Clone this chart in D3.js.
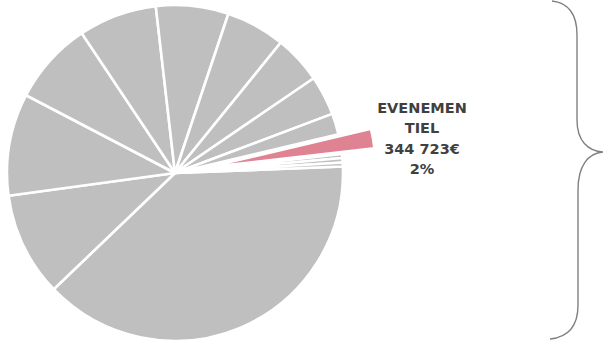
<!DOCTYPE html>
<html>
<head>
<meta charset="utf-8">
<script src="https://cdn.jsdelivr.net/npm/d3@7/dist/d3.min.js"></script>
<style>
  html, body { margin: 0; padding: 0; background: #ffffff; }
  svg { display: block; }
</style>
</head>
<body>
<div id="chart"></div>
<script>
// ---- Data ----
const categories = [
  "Catégorie 1", "Catégorie 2", "Catégorie 3", "Catégorie 4", "Catégorie 5",
  "Catégorie 6", "Catégorie 7", "Catégorie 8", "Catégorie 9", "Catégorie 10",
  "EVENEMENTIEL", "Catégorie 12", "Catégorie 13", "Catégorie 14"
];
const values = [
  7011000, 1825000, 1790000, 1455000, 1374000,
  1272000, 1039000, 842000, 695000, 370000,
  344723, 71000, 76000, 71000
];
const highlighted = "EVENEMENTIEL";
const highlightLabelLines = ["EVENEMEN", "TIEL"];

// ---- Layout ----
const W = 603, H = 342;
const cx = 175, cy = 173, R = 168;
const explode = 33;
const startDeg = 87.8;

const svg = d3.select("#chart").append("svg")
  .attr("width", W).attr("height", H);

const data = categories.map((c, i) => ({ category: c, value: values[i] }));
const total = d3.sum(values);

const pie = d3.pie()
  .sort(null)
  .value(d => d.value)
  .startAngle(startDeg * Math.PI / 180)
  .endAngle(startDeg * Math.PI / 180 + 2 * Math.PI);

const arc = d3.arc().innerRadius(0).outerRadius(R);

const color = d3.scaleOrdinal()
  .domain(categories)
  .range(categories.map(c => c === highlighted ? "#df8291" : "#bfbfbf"));

const g = svg.append("g").attr("transform", `translate(${cx},${cy})`);

const arcs = pie(data);

g.selectAll("path.slice")
  .data(arcs)
  .join("path")
  .attr("class", "slice")
  .attr("d", arc)
  .attr("fill", d => color(d.data.category))
  .attr("stroke", "#ffffff")
  .attr("stroke-width", 2.6)
  .attr("stroke-linejoin", "round")
  .attr("transform", d => {
    if (d.data.category !== highlighted) return null;
    const a = (d.startAngle + d.endAngle) / 2;
    return `translate(${explode * Math.sin(a)},${-explode * Math.cos(a)})`;
  });

// ---- Label for the highlighted slice ----
const fr = d3.formatLocale({ decimal: ",", thousands: "\u00a0", grouping: [3], currency: ["", "€"] });
const fmtVal = v => fr.format(",.0f")(v).replace(/\u00a0/g, " ") + "€";
const hi = data.find(d => d.category === highlighted);
const lines = [...highlightLabelLines, fmtVal(hi.value), Math.round(hi.value / total * 100) + "%"];

const label = svg.append("text")
  .attr("x", 422)
  .attr("y", 113)
  .attr("text-anchor", "middle")
  .attr("font-family", "'DejaVu Sans', sans-serif")
  .attr("font-weight", "bold")
  .attr("font-size", 14.5)
  .attr("fill", "#404040");

label.selectAll("tspan")
  .data(lines)
  .join("tspan")
  .attr("x", 422)
  .attr("dy", (d, i) => i === 0 ? 0 : 20.3)
  .text(d => d);

// ---- Right brace ----
svg.append("path")
  .attr("d", "M552,1 C570,3 577,15 577,35 L577,120 C577,141 588,151 603,152 C588,153 578,166 578,190 L578,305 C578,325 570,337 550,339")
  .attr("fill", "none")
  .attr("stroke", "#808080")
  .attr("stroke-width", 1.4);
</script>
</body>
</html>
